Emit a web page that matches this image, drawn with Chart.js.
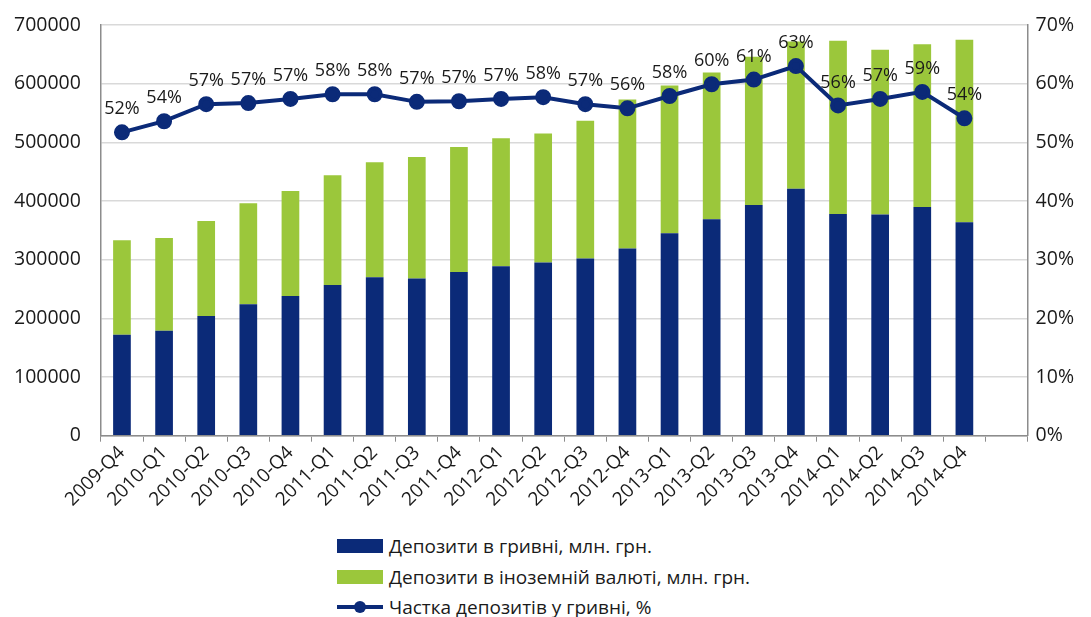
<!DOCTYPE html>
<html>
<head>
<meta charset="utf-8">
<script src="https://cdn.jsdelivr.net/npm/chart.js@4"></script>
<style>
  body { margin: 0; background: #fff; font-family: "Open Sans", sans-serif; }
  #wrap { position: relative; width: 1091px; height: 511px; }
  #legend { position: absolute; left: 337px; top: 531px; font-size: 19px; color: #1a1a1a; }
  .item { height: 30.5px; display: flex; align-items: center; }
  .sw { width: 46px; height: 14px; margin-right: 6px; }
  .ln { width: 46px; height: 4px; margin-right: 6px; background: #0b2a78; position: relative; }
  .ln::after { content: ""; position: absolute; left: 17px; top: -4px; width: 12px; height: 12px; border-radius: 50%; background: #0b2a78; }
</style>
</head>
<body>
<div id="wrap"><canvas id="depositChart"></canvas></div>
<div id="legend"></div>
<script>
// quarters (last slot is empty, as in the source chart)
var quarters = ['2009-Q4', '2010-Q1', '2010-Q2', '2010-Q3', '2010-Q4', '2011-Q1', '2011-Q2', '2011-Q3', '2011-Q4',
    '2012-Q1', '2012-Q2', '2012-Q3', '2012-Q4', '2013-Q1', '2013-Q2', '2013-Q3', '2013-Q4',
    '2014-Q1', '2014-Q2', '2014-Q3', '2014-Q4', ''];

// deposits in hryvnia, mln UAH
var uahDeposits = [172000, 179000, 204000, 224000, 238000, 257000, 270000, 268000, 279000,
    289000, 295000, 302000, 319000, 345000, 369000, 393000, 421000,
    378000, 377000, 390000, 364000];

// deposits in foreign currency, mln UAH
var fxDeposits = [161000, 158000, 162000, 172000, 179000, 187000, 196000, 207000, 213000,
    218000, 220000, 235000, 254000, 252000, 250000, 253000, 251000,
    295000, 281000, 277000, 311000];

// share of hryvnia deposits, %
var uahShare = [51.7, 53.6, 56.5, 56.7, 57.4, 58.2, 58.2, 56.9, 57.0,
    57.4, 57.7, 56.5, 55.8, 57.9, 59.9, 60.7, 63.0,
    56.3, 57.4, 58.6, 54.1];

var leftTicks = [0, 100000, 200000, 300000, 400000, 500000, 600000, 700000];
var rightTicks = [0, 10, 20, 30, 40, 50, 60, 70];

var legendNames = ['Депозити в гривні, млн. грн.', 'Депозити в іноземній валюті, млн. грн.', 'Частка депозитів у гривні, %'];

var navy = '#0b2a78';
var green = '#9bc73b';
var fontFamily = '"Open Sans", sans-serif';

// percent labels above the line points
var shareLabels = {
    id: 'shareLabels',
    afterDatasetsDraw: function (chart) {
        var meta = chart.getDatasetMeta(2);
        var c = chart.ctx;
        c.save();
        c.font = '18px ' + fontFamily;
        c.fillStyle = '#1a1a1a';
        c.textAlign = 'center';
        c.textBaseline = 'bottom';
        meta.data.forEach(function (pt, i) {
            if (uahShare[i] == null) return;
            c.fillText(Math.round(uahShare[i]) + '%', pt.x, pt.y - 14);
        });
        c.restore();
    }
};

// let layout.padding.top decide where the plot starts
function noTopPad(axis) {
    axis.paddingTop = 0;
}

var ctx = document.getElementById('depositChart').getContext('2d');
var myChart = new Chart(ctx, {
    type: 'bar',
    data: {
        labels: quarters,
        datasets: [{
            label: legendNames[0],
            data: uahDeposits,
            backgroundColor: navy,
            yAxisID: 'y',
            barPercentage: 0.42,
            categoryPercentage: 1,
            order: 2
        }, {
            label: legendNames[1],
            data: fxDeposits,
            backgroundColor: green,
            yAxisID: 'y',
            barPercentage: 0.42,
            categoryPercentage: 1,
            order: 2
        }, {
            type: 'line',
            label: legendNames[2],
            data: uahShare,
            yAxisID: 'y1',
            borderColor: navy,
            backgroundColor: navy,
            borderWidth: 4,
            pointRadius: 6,
            pointHoverRadius: 6,
            tension: 0,
            order: 0
        }]
    },
    options: {
        responsive: true,
        maintainAspectRatio: false,
        animation: false,
        layout: {
            // left is negative to cancel the room chart.js keeps for the first slanted label
            padding: { top: 25, left: -6, right: 9, bottom: 0 }
        },
        plugins: {
            legend: { display: false },
            tooltip: { enabled: false }
        },
        scales: {
            x: {
                stacked: true,
                grid: {
                    offset: true,
                    drawOnChartArea: false,
                    drawTicks: true,
                    tickLength: 6,
                    color: '#8c8c8c'
                },
                border: { color: '#8c8c8c', width: 1.5 },
                ticks: {
                    maxRotation: 45,
                    minRotation: 45,
                    autoSkip: false,
                    color: '#1a1a1a',
                    padding: 0,
                    font: { family: fontFamily, size: 19 }
                }
            },
            y: {
                stacked: true,
                min: 0,
                max: 700000,
                afterBuildTicks: function (axis) {
                    axis.ticks = leftTicks.map(function (v) { return { value: v }; });
                },
                afterFit: noTopPad,
                grid: { color: '#d9d9d9', lineWidth: 1.5, drawTicks: false },
                border: { color: '#8c8c8c', width: 1.5 },
                ticks: {
                    color: '#1a1a1a',
                    padding: 20,
                    font: { family: fontFamily, size: 19.5 },
                    callback: function (v) { return String(v); }
                }
            },
            y1: {
                position: 'right',
                min: 0,
                max: 70,
                afterBuildTicks: function (axis) {
                    axis.ticks = rightTicks.map(function (v) { return { value: v }; });
                },
                afterFit: noTopPad,
                grid: { drawOnChartArea: false, drawTicks: false },
                border: { color: '#8c8c8c', width: 1.5 },
                ticks: {
                    color: '#1a1a1a',
                    padding: 8,
                    font: { family: fontFamily, size: 19.5 },
                    callback: function (v) { return v + '%'; }
                }
            }
        }
    },
    plugins: [shareLabels]
});

// legend as stacked rows under the chart
var legend = document.getElementById('legend');
legendNames.forEach(function (name, i) {
    var row = document.createElement('div');
    row.className = 'item';
    var sw = document.createElement('span');
    if (i === 2) {
        sw.className = 'ln';
    } else {
        sw.className = 'sw';
        sw.style.background = i === 0 ? navy : green;
    }
    var txt = document.createElement('span');
    txt.textContent = name;
    row.appendChild(sw);
    row.appendChild(txt);
    legend.appendChild(row);
});
</script>
</body>
</html>
